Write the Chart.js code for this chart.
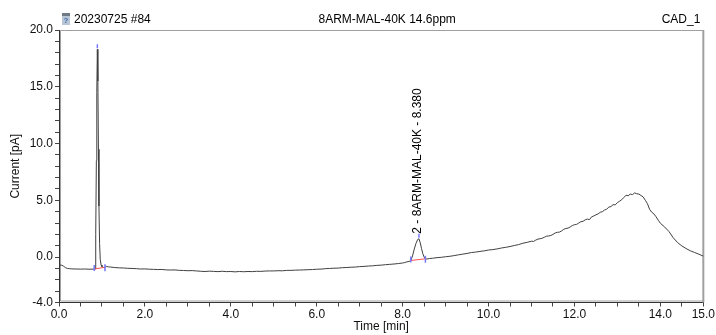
<!DOCTYPE html>
<html lang="en">
<head>
<meta charset="UTF-8">
<title>8ARM-MAL-40K 14.6ppm</title>
<script src="https://cdn.jsdelivr.net/npm/chart.js@4.4.0/dist/chart.umd.min.js"></script>
<style>
    body { margin: 0; background: #fff; }
    canvas { display: block; }
</style>
</head>
<body>
<canvas id="chromatogramChart" width="716" height="335"></canvas>
<script>
// Retention time [min]
const times = [
    0.00, 0.05, 0.10, 0.15, 0.20, 0.25, 0.30, 0.40, 0.50, 0.60, 0.70, 0.80,
    0.84, 0.855, 0.87, 0.88, 0.893, 0.905, 0.918, 0.93, 0.945, 0.96, 0.98, 1.00, 1.03, 1.06,
    1.10, 1.15, 1.20, 1.30, 1.40, 1.50, 1.60, 1.70, 1.80, 1.90,
    2.00, 2.10, 2.20, 2.30, 2.40, 2.50, 2.60, 2.70, 2.80, 2.90,
    3.00, 3.10, 3.20, 3.30, 3.40, 3.50, 3.60, 3.70, 3.80, 3.90,
    4.00, 4.10, 4.20, 4.30, 4.40, 4.50, 4.60, 4.70, 4.80, 4.90,
    5.00, 5.10, 5.20, 5.30, 5.40, 5.50, 5.60, 5.70, 5.80, 5.90,
    6.00, 6.10, 6.20, 6.30, 6.40, 6.50, 6.60, 6.70, 6.80, 6.90,
    7.00, 7.10, 7.20, 7.30, 7.40, 7.50, 7.60, 7.70, 7.80, 7.90,
    8.00, 8.05, 8.10, 8.15, 8.19, 8.23, 8.27, 8.31, 8.35, 8.38, 8.41, 8.44, 8.47, 8.50, 8.53, 8.57, 8.62,
    8.70, 8.80, 8.90, 9.00, 9.10, 9.20, 9.30, 9.40, 9.50, 9.60, 9.70, 9.80, 9.90,
    10.00, 10.10, 10.20, 10.30, 10.40, 10.50, 10.60, 10.70, 10.80, 10.90,
    11.00, 11.05, 11.10, 11.15, 11.20, 11.25, 11.30, 11.35, 11.40, 11.45,
    11.50, 11.55, 11.60, 11.65, 11.70, 11.75, 11.80, 11.85, 11.90, 11.95,
    12.00, 12.05, 12.10, 12.15, 12.20, 12.25, 12.30, 12.35, 12.40, 12.45,
    12.50, 12.55, 12.60, 12.65, 12.70, 12.75, 12.80, 12.85, 12.90, 12.95,
    13.00, 13.05, 13.10, 13.15, 13.20, 13.25, 13.30, 13.35, 13.40, 13.45, 13.50, 13.55,
    13.60, 13.65, 13.70, 13.75, 13.80, 13.85, 13.90, 13.95,
    14.00, 14.10, 14.20, 14.30, 14.40, 14.50, 14.60, 14.70, 14.80, 14.90, 15.00
];

// Detector current [pA]
const current = [
    -0.72, -0.70, -0.78, -0.93, -1.00, -1.02, -1.04, -1.05, -1.06, -1.05, -1.07, -1.06,
    -1.05, 2.0, 8.5, 14.5, 18.3, 15.5, 9.5, 4.5, 1.2, -0.2, -0.7, -0.85, -0.90, -0.95,
    -0.82, -0.86, -0.88, -0.92, -0.95, -0.96, -0.99, -1.00, -1.02, -1.05,
    -1.04, -1.07, -1.08, -1.10, -1.09, -1.13, -1.14, -1.13, -1.17, -1.18,
    -1.20, -1.19, -1.22, -1.25, -1.27, -1.24, -1.26, -1.28, -1.25, -1.28,
    -1.27, -1.30, -1.27, -1.29, -1.27, -1.28, -1.25, -1.26, -1.23, -1.22,
    -1.22, -1.20, -1.21, -1.17, -1.17, -1.15, -1.14, -1.13, -1.11, -1.10,
    -1.07, -1.06, -1.02, -1.00, -0.98, -0.97, -0.93, -0.92, -0.89, -0.88,
    -0.84, -0.82, -0.79, -0.77, -0.73, -0.71, -0.67, -0.64, -0.61, -0.57,
    -0.52, -0.48, -0.42, -0.38, -0.32, 0.10, 0.70, 1.20, 1.55, 1.62, 1.25, 0.75, 0.30, 0.00, -0.15, -0.17, -0.13,
    -0.10, -0.05, -0.02, 0.03, 0.07, 0.13, 0.20, 0.26, 0.32, 0.40, 0.44, 0.50, 0.55,
    0.62, 0.66, 0.72, 0.80, 0.86, 0.93, 1.02, 1.10, 1.22, 1.30,
    1.40, 1.38, 1.50, 1.58, 1.62, 1.66, 1.75, 1.84, 1.86, 1.90,
    2.00, 2.12, 2.18, 2.20, 2.30, 2.45, 2.52, 2.55, 2.65, 2.78,
    2.85, 2.88, 3.00, 3.12, 3.15, 3.28, 3.35, 3.30, 3.55, 3.62,
    3.72, 3.80, 3.95, 4.00, 4.14, 4.22, 4.40, 4.45, 4.62, 4.60,
    4.80, 4.92, 5.05, 5.25, 5.45, 5.40, 5.55, 5.50, 5.65, 5.58, 5.55, 5.42,
    5.30, 5.00, 4.70, 4.20, 3.95, 3.80, 3.55, 3.25,
    2.98, 2.65, 2.25, 1.70, 1.28, 0.98, 0.75, 0.55, 0.40, 0.25, 0.08
];

// Axis ticks and labels
const xTicks = [0, 0.5, 1, 1.5, 2, 2.5, 3, 3.5, 4, 4.5, 5, 5.5, 6, 6.5, 7, 7.5,
    8, 8.5, 9, 9.5, 10, 10.5, 11, 11.5, 12, 12.5, 13, 13.5, 14, 14.5, 15];
const xLabels = ['0.0', '2.0', '4.0', '6.0', '8.0', '10.0', '12.0', '14.0', '15.0'];
const yTicks = [-4, -3, -2, -1, 0, 1, 2, 3, 4, 5, 6, 7, 8, 9, 10, 11, 12, 13, 14, 15, 16, 17, 18, 19, 20];
const yLabels = ['-4.0', '0.0', '5.0', '10.0', '15.0', '20.0'];

// Integrated peaks
const peakStart = [0.82, 8.19];
const peakStartValue = [-1.05, -0.30];
const peakApex = [0.893, 8.38];
const peakApexValue = [18.3, 1.62];
const peakEnd = [1.07, 8.53];
const peakEndValue = [-0.90, -0.15];
const peakNames = ['', '2 - 8ARM-MAL-40K - 8.380'];

// Header texts
const sampleName = '20230725 #84';
const chartTitle = '8ARM-MAL-40K 14.6ppm';
const channelName = 'CAD_1';

const FONT = "'Liberation Sans', Arial, sans-serif";

document.addEventListener('DOMContentLoaded', () => {
    initializeChart();
});

// Frame, header, peak marks
const chromDecor = {
    id: 'chromDecor',
    beforeDatasetsDraw(chart) {
        const { ctx, chartArea: a } = chart;
        ctx.save();
        ctx.strokeStyle = '#a0a0a0';
        ctx.lineWidth = 1;
        ctx.beginPath();
        ctx.moveTo(a.left + 1.5, a.bottom - 1.5);
        ctx.lineTo(a.left + 1.5, a.top + 0.5);
        ctx.lineTo(a.right, a.top + 0.5);
        ctx.moveTo(a.left + 1.5, a.bottom - 1.5);
        ctx.lineTo(a.right, a.bottom - 1.5);
        ctx.stroke();
        ctx.lineWidth = 2;
        ctx.beginPath();
        ctx.moveTo(a.right, a.top);
        ctx.lineTo(a.right, a.bottom);
        ctx.stroke();
        ctx.restore();
    },
    afterDatasetsDraw(chart) {
        const { ctx, scales: { x, y } } = chart;
        ctx.save();
        for (let i = 0; i < peakStart.length; i++) {
            const sx = x.getPixelForValue(peakStart[i]);
            const sy = y.getPixelForValue(peakStartValue[i]);
            const ex = x.getPixelForValue(peakEnd[i]);
            const ey = y.getPixelForValue(peakEndValue[i]);
            const ax = x.getPixelForValue(peakApex[i]);
            const ay = y.getPixelForValue(peakApexValue[i]);

            // baseline
            ctx.strokeStyle = '#ff5050';
            ctx.lineWidth = 1;
            ctx.beginPath();
            ctx.moveTo(sx, sy);
            ctx.lineTo(ex, ey);
            ctx.stroke();

            // delimiters
            ctx.strokeStyle = '#7878ff';
            ctx.lineWidth = 1.5;
            ctx.beginPath();
            ctx.moveTo(sx, sy - 4);
            ctx.lineTo(sx, sy + 2);
            ctx.moveTo(ex, ey - 3);
            ctx.lineTo(ex, ey + 4);
            ctx.moveTo(ax, ay - 5);
            ctx.lineTo(ax, ay - 1);
            ctx.stroke();

            // peak name
            if (peakNames[i]) {
                ctx.save();
                ctx.translate(ax - 1, ay - 5);
                ctx.rotate(-Math.PI / 2);
                ctx.fillStyle = '#000';
                ctx.font = '12px ' + FONT;
                ctx.textAlign = 'left';
                ctx.textBaseline = 'middle';
                ctx.fillText(peakNames[i], 0, 0);
                ctx.restore();
            }
        }
        ctx.restore();
    },
    afterDraw(chart) {
        const { ctx, chartArea: a } = chart;
        ctx.save();
        // small sample icon
        ctx.fillStyle = '#6f7a86';
        ctx.fillRect(62, 13, 8, 3);
        ctx.fillStyle = '#b9c6d6';
        ctx.fillRect(62, 16, 8, 9);
        ctx.fillStyle = '#3f6fb0';
        ctx.font = 'bold 8px ' + FONT;
        ctx.textAlign = 'center';
        ctx.textBaseline = 'middle';
        ctx.fillText('?', 66, 21);

        ctx.fillStyle = '#000';
        ctx.font = '12px ' + FONT;
        ctx.textBaseline = 'middle';
        ctx.textAlign = 'left';
        ctx.fillText(sampleName, 74, 20);
        ctx.textAlign = 'center';
        ctx.fillText(chartTitle, (a.left + a.right) / 2 + 6, 20);
        ctx.textAlign = 'right';
        ctx.fillText(channelName, a.right - 3, 20);
        ctx.restore();
    }
};

// Chart setup
function initializeChart() {
    Chart.defaults.font.family = FONT;
    Chart.defaults.font.size = 12;
    Chart.defaults.color = '#111';

    const ctx = document.getElementById('chromatogramChart').getContext('2d');
    new Chart(ctx, {
        type: 'line',
        data: {
            datasets: [{
                label: channelName,
                data: times.map((t, i) => ({ x: t, y: current[i] })),
                borderColor: '#404040',
                borderWidth: 1,
                pointRadius: 0,
                tension: 0,
                fill: false
            }]
        },
        options: {
            responsive: false,
            animation: false,
            layout: { padding: { top: 30, right: 10, left: 0, bottom: 0 } },
            plugins: {
                legend: { display: false },
                tooltip: { enabled: false }
            },
            scales: {
                x: {
                    type: 'linear',
                    min: 0,
                    max: 15,
                    afterBuildTicks: (scale) => {
                        scale.ticks = xTicks.map(v => ({ value: v }));
                    },
                    afterFit: (scale) => { scale.height = 32.5; },
                    ticks: {
                        autoSkip: false,
                        maxRotation: 0,
                        padding: 1,
                        callback: (v) => xLabels.includes(v.toFixed(1)) ? v.toFixed(1) : ''
                    },
                    grid: {
                        drawOnChartArea: false,
                        drawTicks: true,
                        tickLength: 4,
                        color: '#444'
                    },
                    border: { color: '#333', width: 1 },
                    title: {
                        display: true,
                        text: 'Time [min]',
                        padding: { top: 0, bottom: 1 }
                    }
                },
                y: {
                    min: -4,
                    max: 20,
                    afterBuildTicks: (scale) => {
                        scale.ticks = yTicks.map(v => ({ value: v }));
                    },
                    afterFit: (scale) => { scale.width = 59; },
                    ticks: {
                        autoSkip: false,
                        padding: 2,
                        callback: (v) => yLabels.includes(v.toFixed(1)) ? v.toFixed(1) : ''
                    },
                    grid: {
                        drawOnChartArea: false,
                        drawTicks: true,
                        tickLength: 4,
                        color: '#444'
                    },
                    border: { color: '#333', width: 1 },
                    title: {
                        display: true,
                        text: 'Current [pA]',
                        padding: { top: 8, bottom: 0 }
                    }
                }
            }
        },
        plugins: [chromDecor]
    });
}
</script>
</body>
</html>
